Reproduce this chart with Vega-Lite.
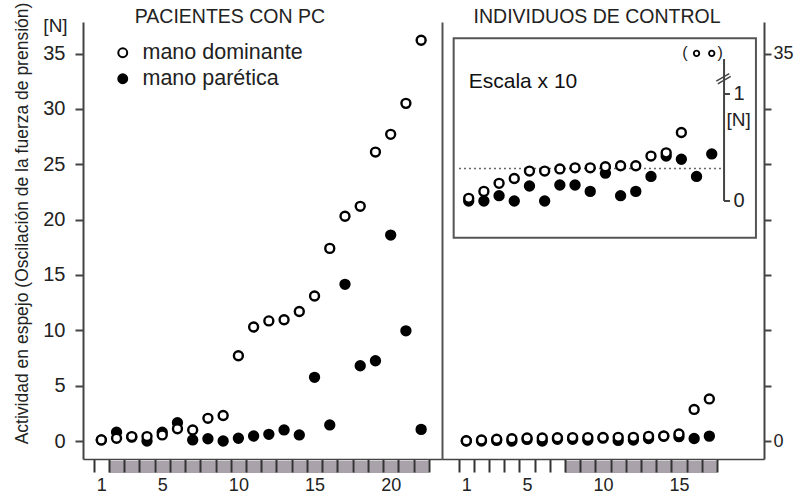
{
  "$schema": "https://vega.github.io/schema/vega-lite/v6.json",
  "padding": {"left": 14, "top": 2, "right": 0, "bottom": 0},
  "background": "white",
  "config": {
    "font": "Liberation Sans",
    "view": {"stroke": null},
    "title": {"font": "Liberation Sans", "fontWeight": "normal", "color": "#222"}
  },
  "title": {"text": "Actividad en espejo (Oscilación de la fuerza de prensión)", "orient": "left", "anchor": "middle", "fontSize": 17.5, "offset": 11, "dx": 27},
  "datasets": {
    "pc": [
      {"sujeto": 1, "mano": "mano parética", "valor": 0.1},
      {"sujeto": 2, "mano": "mano parética", "valor": 0.8},
      {"sujeto": 3, "mano": "mano parética", "valor": 0.35},
      {"sujeto": 4, "mano": "mano parética", "valor": 0.0},
      {"sujeto": 5, "mano": "mano parética", "valor": 0.8},
      {"sujeto": 6, "mano": "mano parética", "valor": 1.65},
      {"sujeto": 7, "mano": "mano parética", "valor": 0.1},
      {"sujeto": 8, "mano": "mano parética", "valor": 0.2},
      {"sujeto": 9, "mano": "mano parética", "valor": 0.0},
      {"sujeto": 10, "mano": "mano parética", "valor": 0.25},
      {"sujeto": 11, "mano": "mano parética", "valor": 0.45},
      {"sujeto": 12, "mano": "mano parética", "valor": 0.6},
      {"sujeto": 13, "mano": "mano parética", "valor": 1.0},
      {"sujeto": 14, "mano": "mano parética", "valor": 0.55},
      {"sujeto": 15, "mano": "mano parética", "valor": 5.75},
      {"sujeto": 16, "mano": "mano parética", "valor": 1.45},
      {"sujeto": 17, "mano": "mano parética", "valor": 14.15},
      {"sujeto": 18, "mano": "mano parética", "valor": 6.8},
      {"sujeto": 19, "mano": "mano parética", "valor": 7.25},
      {"sujeto": 20, "mano": "mano parética", "valor": 18.6},
      {"sujeto": 21, "mano": "mano parética", "valor": 9.95},
      {"sujeto": 22, "mano": "mano parética", "valor": 1.05},
      {"sujeto": 1, "mano": "mano dominante", "valor": 0.1},
      {"sujeto": 2, "mano": "mano dominante", "valor": 0.25},
      {"sujeto": 3, "mano": "mano dominante", "valor": 0.4},
      {"sujeto": 4, "mano": "mano dominante", "valor": 0.4},
      {"sujeto": 5, "mano": "mano dominante", "valor": 0.55},
      {"sujeto": 6, "mano": "mano dominante", "valor": 1.1},
      {"sujeto": 7, "mano": "mano dominante", "valor": 1.0},
      {"sujeto": 8, "mano": "mano dominante", "valor": 2.05},
      {"sujeto": 9, "mano": "mano dominante", "valor": 2.3},
      {"sujeto": 10, "mano": "mano dominante", "valor": 7.7},
      {"sujeto": 11, "mano": "mano dominante", "valor": 10.3},
      {"sujeto": 12, "mano": "mano dominante", "valor": 10.85},
      {"sujeto": 13, "mano": "mano dominante", "valor": 10.95},
      {"sujeto": 14, "mano": "mano dominante", "valor": 11.7},
      {"sujeto": 15, "mano": "mano dominante", "valor": 13.1},
      {"sujeto": 16, "mano": "mano dominante", "valor": 17.4},
      {"sujeto": 17, "mano": "mano dominante", "valor": 20.3},
      {"sujeto": 18, "mano": "mano dominante", "valor": 21.2},
      {"sujeto": 19, "mano": "mano dominante", "valor": 26.1},
      {"sujeto": 20, "mano": "mano dominante", "valor": 27.7},
      {"sujeto": 21, "mano": "mano dominante", "valor": 30.5},
      {"sujeto": 22, "mano": "mano dominante", "valor": 36.2}
    ],
    "control": [
      {"sujeto": 1, "mano": "mano parética", "valor": 0.0},
      {"sujeto": 2, "mano": "mano parética", "valor": 0.0},
      {"sujeto": 3, "mano": "mano parética", "valor": 0.05},
      {"sujeto": 4, "mano": "mano parética", "valor": 0.0},
      {"sujeto": 5, "mano": "mano parética", "valor": 0.14},
      {"sujeto": 6, "mano": "mano parética", "valor": 0.0},
      {"sujeto": 7, "mano": "mano parética", "valor": 0.15},
      {"sujeto": 8, "mano": "mano parética", "valor": 0.15},
      {"sujeto": 9, "mano": "mano parética", "valor": 0.09},
      {"sujeto": 10, "mano": "mano parética", "valor": 0.26},
      {"sujeto": 11, "mano": "mano parética", "valor": 0.05},
      {"sujeto": 12, "mano": "mano parética", "valor": 0.09},
      {"sujeto": 13, "mano": "mano parética", "valor": 0.23},
      {"sujeto": 14, "mano": "mano parética", "valor": 0.42},
      {"sujeto": 15, "mano": "mano parética", "valor": 0.39},
      {"sujeto": 16, "mano": "mano parética", "valor": 0.23},
      {"sujeto": 17, "mano": "mano parética", "valor": 0.44},
      {"sujeto": 1, "mano": "mano dominante", "valor": 0.025},
      {"sujeto": 2, "mano": "mano dominante", "valor": 0.09},
      {"sujeto": 3, "mano": "mano dominante", "valor": 0.165},
      {"sujeto": 4, "mano": "mano dominante", "valor": 0.21},
      {"sujeto": 5, "mano": "mano dominante", "valor": 0.28},
      {"sujeto": 6, "mano": "mano dominante", "valor": 0.28},
      {"sujeto": 7, "mano": "mano dominante", "valor": 0.3},
      {"sujeto": 8, "mano": "mano dominante", "valor": 0.31},
      {"sujeto": 9, "mano": "mano dominante", "valor": 0.31},
      {"sujeto": 10, "mano": "mano dominante", "valor": 0.32},
      {"sujeto": 11, "mano": "mano dominante", "valor": 0.33},
      {"sujeto": 12, "mano": "mano dominante", "valor": 0.33},
      {"sujeto": 13, "mano": "mano dominante", "valor": 0.42},
      {"sujeto": 14, "mano": "mano dominante", "valor": 0.45},
      {"sujeto": 15, "mano": "mano dominante", "valor": 0.64},
      {"sujeto": 16, "mano": "mano dominante", "valor": 2.85},
      {"sujeto": 17, "mano": "mano dominante", "valor": 3.8}
    ],
    "celdas_pc": [
      {"sujeto": 1, "sombreado": false}, {"sujeto": 2, "sombreado": true}, {"sujeto": 3, "sombreado": true},
      {"sujeto": 4, "sombreado": true}, {"sujeto": 5, "sombreado": true}, {"sujeto": 6, "sombreado": true},
      {"sujeto": 7, "sombreado": true}, {"sujeto": 8, "sombreado": true}, {"sujeto": 9, "sombreado": true},
      {"sujeto": 10, "sombreado": true}, {"sujeto": 11, "sombreado": true}, {"sujeto": 12, "sombreado": true},
      {"sujeto": 13, "sombreado": true}, {"sujeto": 14, "sombreado": true}, {"sujeto": 15, "sombreado": true},
      {"sujeto": 16, "sombreado": true}, {"sujeto": 17, "sombreado": true}, {"sujeto": 18, "sombreado": true},
      {"sujeto": 19, "sombreado": true}, {"sujeto": 20, "sombreado": true}, {"sujeto": 21, "sombreado": true},
      {"sujeto": 22, "sombreado": true}
    ],
    "celdas_control": [
      {"sujeto": 1, "sombreado": false}, {"sujeto": 2, "sombreado": false}, {"sujeto": 3, "sombreado": false},
      {"sujeto": 4, "sombreado": false}, {"sujeto": 5, "sombreado": false}, {"sujeto": 6, "sombreado": false},
      {"sujeto": 7, "sombreado": false}, {"sujeto": 8, "sombreado": true}, {"sujeto": 9, "sombreado": true},
      {"sujeto": 10, "sombreado": true}, {"sujeto": 11, "sombreado": true}, {"sujeto": 12, "sombreado": true},
      {"sujeto": 13, "sombreado": true}, {"sujeto": 14, "sombreado": true}, {"sujeto": 15, "sombreado": true},
      {"sujeto": 16, "sombreado": true}, {"sujeto": 17, "sombreado": true}
    ],
    "ticks_recuadro": [{"v": 0}, {"v": 1}]
  },
  "spacing": 0,
  "resolve": {"scale": {"fill": "independent", "x": "independent", "y": "independent"}},
  "hconcat": [
    {
      "width": 359,
      "height": 437,
      "layer": [
        {
          "data": {"name": "celdas_pc"},
          "transform": [{"filter": "datum.sombreado"}],
          "mark": {"type": "rect", "fill": "#aaa2aa"},
          "encoding": {
            "x": {
              "field": "sujeto", "type": "ordinal",
              "scale": {"type": "band", "domain": [1,2,3,4,5,6,7,8,9,10,11,12,13,14,15,16,17,18,19,20,21,22], "paddingInner": 0, "paddingOuter": 0.786, "align": 0.447},
              "axis": {"orient": "bottom", "title": null, "tickBand": "extent", "tickSize": 13, "tickWidth": 2, "tickColor": "#333", "domainColor": "#444", "domainWidth": 1.5, "labelFontSize": 18, "labelColor": "#222", "labelPadding": 4, "labelAngle": 0, "labelExpr": "datum.value == 1 || datum.value % 5 == 0 ? datum.label : ''"}
            },
            "y": {
              "datum": -1.807, "type": "quantitative",
              "scale": {"domain": [-1.626, 37.85], "nice": false, "zero": false},
              "axis": {"orient": "left", "values": [0,5,10,15,20,25,30,35], "grid": false, "tickSize": 8, "tickWidth": 2, "tickColor": "#444", "domainColor": "#444", "domainWidth": 2, "labelFontSize": 20, "labelColor": "#222", "labelPadding": 10, "title": "[N]", "titleAngle": 0, "titleX": -28, "titleY": 3, "titleAlign": "center", "titleBaseline": "middle", "titleFontSize": 19, "titleFontWeight": "normal", "titleColor": "#222"}
            },
            "y2": {"datum": -2.89}
          }
        },
        {
          "data": {"name": "pc"},
          "mark": {"type": "point", "shape": "circle", "filled": true, "size": 80, "stroke": "black", "strokeWidth": 2.4, "opacity": 1},
          "encoding": {
            "x": {"field": "sujeto", "type": "ordinal"},
            "y": {"field": "valor", "type": "quantitative"},
            "fill": {
              "field": "mano", "type": "nominal",
              "scale": {"domain": ["mano dominante", "mano parética"], "range": ["white", "black"]},
              "legend": {"orient": "none", "legendX": 29, "legendY": 20, "title": null, "labelFontSize": 21.5, "labelLimit": 400, "labelColor": "#222", "symbolType": "circle", "symbolSize": 80, "symbolStrokeColor": "black", "symbolStrokeWidth": 2, "rowPadding": 3, "labelOffset": 9, "padding": 0}
            }
          }
        },
        {
          "data": {"values": [{}]},
          "mark": {"type": "text", "align": "left", "baseline": "middle", "fontSize": 19.5, "color": "#222", "dx": 3},
          "encoding": {
            "x": {"datum": 3, "type": "ordinal"},
            "y": {"datum": 38.3, "type": "quantitative"},
            "text": {"value": "PACIENTES CON PC"}
          }
        }
      ]
    },
    {
      "width": 322,
      "height": 437,
      "resolve": {"scale": {"x": "independent", "y": "independent"}},
      "layer": [
        {
          "layer": [
            {
              "data": {"name": "celdas_control"},
              "transform": [{"filter": "datum.sombreado"}],
              "mark": {"type": "rect", "fill": "#aaa2aa"},
              "encoding": {
                "x": {
                  "field": "sujeto", "type": "ordinal",
                  "scale": {"type": "band", "domain": [1,2,3,4,5,6,7,8,9,10,11,12,13,14,15,16,17,18,19,20], "paddingInner": 0, "paddingOuter": 0.599, "align": 0.918},
                  "axis": {"orient": "bottom", "title": null, "values": [1,2,3,4,5,6,7,8,9,10,11,12,13,14,15,16,17], "tickBand": "extent", "tickSize": 13, "tickWidth": 2, "tickColor": "#333", "domainColor": "#444", "domainWidth": 1.5, "labelFontSize": 18, "labelColor": "#222", "labelPadding": 4, "labelAngle": 0, "labelExpr": "datum.value == 1 || datum.value % 5 == 0 ? datum.label : ''"}
                },
                "y": {
                  "datum": -1.807, "type": "quantitative",
                  "scale": {"domain": [-1.626, 37.85], "nice": false, "zero": false},
                  "axis": {"orient": "right", "values": [0,5,10,15,20,25,30,35], "grid": false, "tickSize": 7, "tickWidth": 2, "tickColor": "#444", "domainColor": "#444", "domainWidth": 2, "labelFontSize": 18, "labelColor": "#222", "labelPadding": 2, "title": null, "labelExpr": "datum.value == 0 || datum.value == 35 ? datum.label : ''"}
                },
                "y2": {"datum": -2.89}
              }
            },
            {
              "data": {"name": "control"},
              "mark": {"type": "point", "shape": "circle", "filled": true, "size": 80, "stroke": "black", "strokeWidth": 2.4, "opacity": 1},
              "encoding": {
                "x": {"field": "sujeto", "type": "ordinal"},
                "y": {"field": "valor", "type": "quantitative"},
                "fill": {
                  "field": "mano", "type": "nominal",
                  "scale": {"domain": ["mano dominante", "mano parética"], "range": ["white", "black"]},
                  "legend": null
                }
              }
            }
          ]
        },
        {
          "layer": [
            {
              "data": {"values": [{}]},
              "mark": {"type": "rect", "fill": null, "stroke": "#555", "strokeWidth": 2},
              "encoding": {
                "x": {"datum": 0.01, "type": "quantitative", "scale": {"domain": [-0.758, 20.44], "nice": false, "zero": false}, "axis": null},
                "x2": {"datum": 19.91},
                "y": {
                  "datum": -0.343, "type": "quantitative",
                  "scale": {"domain": [-2.411, 1.673], "nice": false, "zero": false},
                  "axis": {"orient": "left", "domain": true, "domainColor": "#555", "domainWidth": 2, "ticks": false, "labels": false, "grid": false, "title": null}
                },
                "y2": {"datum": 1.521}
              }
            },
            {
              "data": {"values": [{}]},
              "mark": {"type": "rule", "stroke": "#666", "strokeWidth": 1.5, "strokeDash": [2, 3]},
              "encoding": {
                "x": {"datum": 0.36, "type": "quantitative"},
                "x2": {"datum": 17.68},
                "y": {"datum": 0.305, "type": "quantitative"}
              }
            },
            {
              "data": {"values": [{}]},
              "mark": {"type": "rule", "stroke": "#444", "strokeWidth": 2},
              "encoding": {
                "x": {"datum": 17.81, "type": "quantitative"},
                "y": {"datum": 0, "type": "quantitative"},
                "y2": {"datum": 1.327}
              }
            },
            {
              "data": {"values": [{}]},
              "mark": {"type": "rule", "stroke": "#444", "strokeWidth": 1.5},
              "encoding": {
                "x": {"datum": 17.3, "type": "quantitative"},
                "x2": {"datum": 18.15},
                "y": {"datum": 1.12, "type": "quantitative"},
                "y2": {"datum": 1.19}
              }
            },
            {
              "data": {"values": [{}]},
              "mark": {"type": "rule", "stroke": "#444", "strokeWidth": 1.5},
              "encoding": {
                "x": {"datum": 17.4, "type": "quantitative"},
                "x2": {"datum": 18.25},
                "y": {"datum": 1.095, "type": "quantitative"},
                "y2": {"datum": 1.165}
              }
            },
            {
              "data": {"name": "ticks_recuadro"},
              "mark": {"type": "rule", "stroke": "#444", "strokeWidth": 2},
              "encoding": {
                "x": {"datum": 17.81, "type": "quantitative"},
                "x2": {"datum": 18.2},
                "y": {"field": "v", "type": "quantitative"}
              }
            },
            {
              "data": {"name": "ticks_recuadro"},
              "mark": {"type": "text", "align": "center", "baseline": "middle", "fontSize": 20, "color": "#222"},
              "encoding": {
                "x": {"datum": 18.8, "type": "quantitative"},
                "y": {"field": "v", "type": "quantitative"},
                "text": {"field": "v", "type": "quantitative"}
              }
            },
            {
              "data": {"values": [{}]},
              "mark": {"type": "text", "align": "center", "baseline": "middle", "fontSize": 19, "color": "#222"},
              "encoding": {
                "x": {"datum": 18.77, "type": "quantitative"},
                "y": {"datum": 0.757, "type": "quantitative"},
                "text": {"value": "[N]"}
              }
            },
            {
              "data": {"values": [{}]},
              "mark": {"type": "text", "align": "left", "baseline": "middle", "fontSize": 21, "color": "#111"},
              "encoding": {
                "x": {"datum": 1.0, "type": "quantitative"},
                "y": {"datum": 1.115, "type": "quantitative"},
                "text": {"value": "Escala x 10"}
              }
            },
            {
              "data": {"values": [{}]},
              "mark": {"type": "text", "align": "center", "baseline": "middle", "fontSize": 19.5, "color": "#222"},
              "encoding": {
                "x": {"datum": 9.45, "type": "quantitative"},
                "y": {"datum": 1.72, "type": "quantitative"},
                "text": {"value": "INDIVIDUOS DE CONTROL"}
              }
            },
            {
              "data": {"name": "control"},
              "transform": [{"filter": "datum.valor <= 1.2"}],
              "mark": {"type": "point", "shape": "circle", "filled": true, "size": 80, "stroke": "black", "strokeWidth": 2.4, "opacity": 1},
              "encoding": {
                "x": {"field": "sujeto", "type": "quantitative"},
                "y": {"field": "valor", "type": "quantitative"},
                "fill": {"field": "mano", "type": "nominal", "legend": null}
              }
            },
            {
              "data": {"name": "control"},
              "transform": [{"filter": "datum.valor > 1.2"}],
              "mark": {"type": "point", "shape": "circle", "filled": true, "size": 30, "stroke": "black", "strokeWidth": 1.8, "opacity": 1},
              "encoding": {
                "x": {"field": "sujeto", "type": "quantitative"},
                "y": {"datum": 1.38, "type": "quantitative"},
                "fill": {"field": "mano", "type": "nominal", "legend": null}
              }
            },
            {
              "data": {"values": [{}]},
              "mark": {"type": "text", "align": "center", "baseline": "middle", "fontSize": 16, "color": "#222"},
              "encoding": {
                "x": {"datum": 15.24, "type": "quantitative"},
                "y": {"datum": 1.38, "type": "quantitative"},
                "text": {"value": "("}
              }
            },
            {
              "data": {"values": [{}]},
              "mark": {"type": "text", "align": "center", "baseline": "middle", "fontSize": 16, "color": "#222"},
              "encoding": {
                "x": {"datum": 17.55, "type": "quantitative"},
                "y": {"datum": 1.38, "type": "quantitative"},
                "text": {"value": ")"}
              }
            }
          ]
        }
      ]
    }
  ]
}
